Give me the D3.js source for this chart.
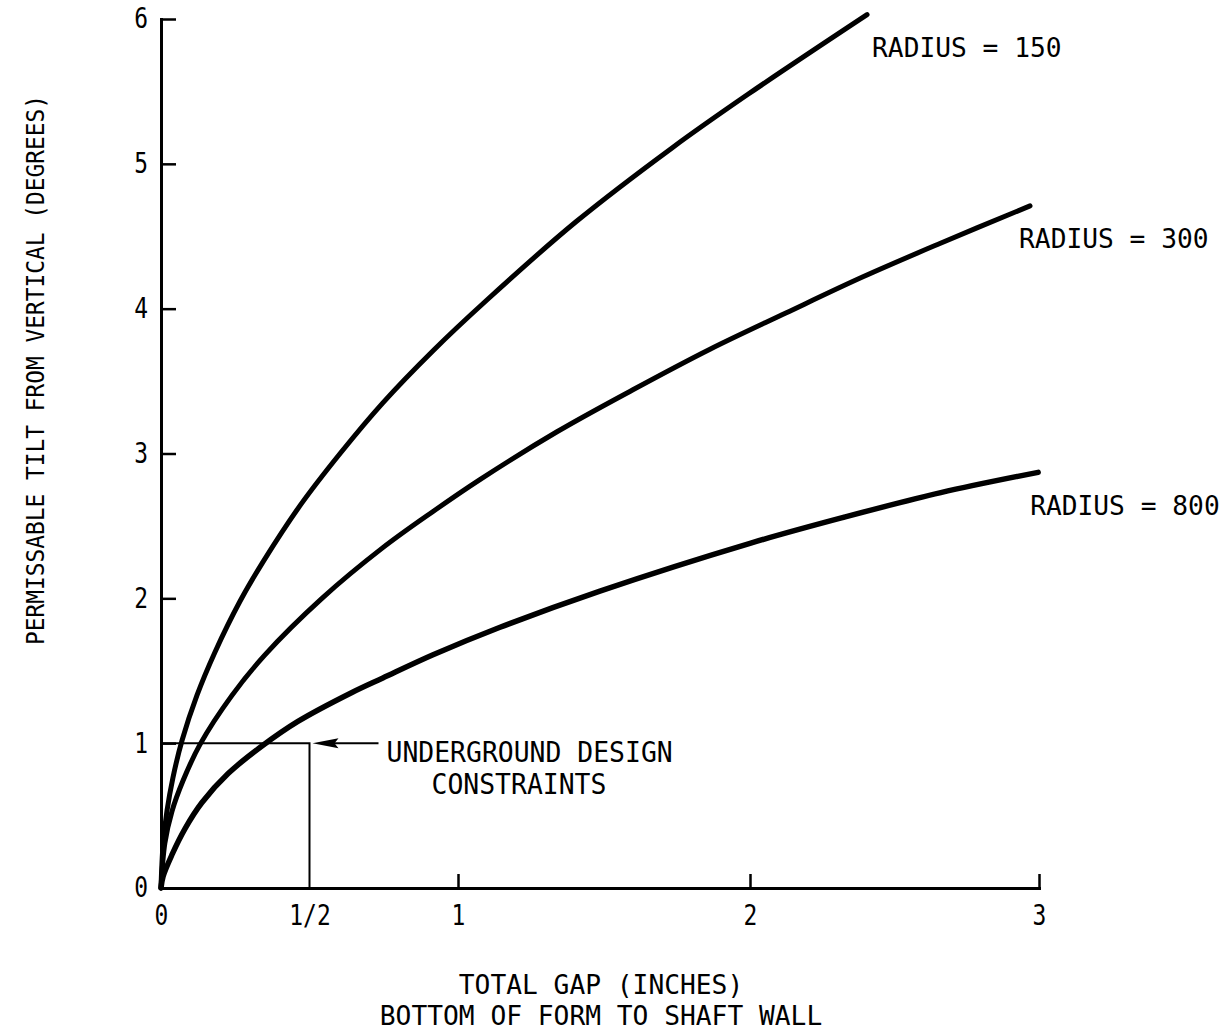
<!DOCTYPE html>
<html>
<head>
<meta charset="utf-8">
<script src="https://cdn.jsdelivr.net/npm/d3@7"></script>
<style>
  html, body { margin: 0; padding: 0; background: #fff; }
  svg { display: block; }
</style>
</head>
<body>
<svg id="chart" width="1230" height="1036"></svg>
<script>
// ---------- data ----------
const xTickValues = [0, 0.5, 1, 2, 3];
const xTickLabels = ["0", "1/2", "1", "2", "3"];
const yTickValues = [0, 1, 2, 3, 4, 5, 6];

const seriesNames = ["RADIUS = 150", "RADIUS = 300", "RADIUS = 800"];

const gapR150  = [0, 0.007, 0.020, 0.040, 0.071, 0.121, 0.182, 0.266, 0.343, 0.468, 0.603, 0.747, 0.916, 1.099, 1.404, 1.733, 1.993, 2.405];
const tiltR150 = [0, 0.30, 0.53, 0.76, 1.02, 1.33, 1.63, 1.98, 2.25, 2.64, 3.00, 3.35, 3.71, 4.06, 4.60, 5.11, 5.48, 6.03];

const gapR300  = [0, 0.013, 0.037, 0.074, 0.131, 0.239, 0.350, 0.542, 0.747, 0.916, 1.075, 1.339, 1.599, 1.863, 2.124, 2.391, 2.657, 2.969];
const tiltR300 = [0, 0.31, 0.53, 0.74, 0.99, 1.33, 1.61, 2.00, 2.35, 2.60, 2.82, 3.15, 3.44, 3.72, 3.97, 4.22, 4.45, 4.71];

const gapR800  = [0, 0.007, 0.037, 0.081, 0.138, 0.226, 0.340, 0.461, 0.643, 0.747, 0.916, 1.144, 1.486, 2.0, 2.325, 2.66, 2.997];
const tiltR800 = [0, 0.08, 0.23, 0.41, 0.59, 0.79, 0.98, 1.15, 1.35, 1.45, 1.61, 1.80, 2.05, 2.38, 2.56, 2.73, 2.87];

const constraintGap = 0.5;
const constraintTilt = 1;
const constraintLabel = ["UNDERGROUND DESIGN", "CONSTRAINTS"];
const xTitle = ["TOTAL GAP (INCHES)", "BOTTOM OF FORM TO SHAFT WALL"];
const yTitle = "PERMISSABLE TILT FROM VERTICAL (DEGREES)";

// ---------- drawing ----------
const FONT = "'DejaVu Sans Mono', 'Liberation Mono', monospace";
const svg = d3.select("#chart");

const x = d3.scaleLinear().domain([0, 1, 2, 3]).range([161, 458, 750, 1039]);
const y = d3.scaleLinear().domain([0, 6]).range([888, 19]);

// condensed look: squeeze mono glyphs horizontally
function condense(sel, size, perChar) {
  sel.attr("font-family", FONT).attr("font-size", size).attr("fill", "#000")
    .attr("lengthAdjust", "spacingAndGlyphs")
    .attr("textLength", function() { return this.textContent.length * perChar; });
}

// y axis
const yAxis = svg.append("g")
  .attr("transform", `translate(${x(0)},0)`)
  .call(d3.axisLeft(y).tickValues(yTickValues).tickFormat(d3.format("d"))
    .tickSizeInner(-15).tickSizeOuter(0).tickPadding(13));
yAxis.select(".domain").attr("stroke", "#000").attr("stroke-width", 3).attr("stroke-linecap", "square");
yAxis.selectAll(".tick line").attr("stroke", "#000").attr("stroke-width", 2.5);
condense(yAxis.selectAll(".tick text"), 28, 13.8);

// x axis
const xAxis = svg.append("g")
  .attr("transform", `translate(0,${y(0)})`)
  .call(d3.axisBottom(x).tickValues(xTickValues).tickFormat((d, i) => xTickLabels[i])
    .tickSizeInner(-14).tickSizeOuter(0).tickPadding(17));
xAxis.select(".domain").attr("stroke", "#000").attr("stroke-width", 3).attr("stroke-linecap", "square");
xAxis.selectAll(".tick line").attr("stroke", "#000").attr("stroke-width", 2.5)
  .attr("display", d => (d === 0 || d === 0.5) ? "none" : null);
condense(xAxis.selectAll(".tick text"), 28, 13.8);

// constraint box
svg.append("path")
  .attr("d", `M${x(0)},${y(constraintTilt)}H${x(constraintGap)}V${y(0)}`)
  .attr("fill", "none").attr("stroke", "#000").attr("stroke-width", 2);

// curves
const line = d3.line().x(d => x(d[0])).y(d => y(d[1])).curve(d3.curveCatmullRom.alpha(0.5));
const series = [
  { gap: gapR150, tilt: tiltR150, w: 5 },
  { gap: gapR300, tilt: tiltR300, w: 5 },
  { gap: gapR800, tilt: tiltR800, w: 5.5 }
];
series.forEach(s => {
  svg.append("path")
    .datum(s.gap.map((g, i) => [g, s.tilt[i]]))
    .attr("d", line)
    .attr("fill", "none").attr("stroke", "#000")
    .attr("stroke-width", s.w).attr("stroke-linecap", "round").attr("stroke-linejoin", "round");
});

// series labels
const labelPos = [
  { x: x(2.405) + 5, y: 57 },
  { x: x(2.969) - 11, y: 248 },
  { x: x(2.997) - 8, y: 515 }
];
seriesNames.forEach((n, i) => {
  svg.append("text").attr("x", labelPos[i].x).attr("y", labelPos[i].y).text(n)
    .call(condense, 27, 15.8);
});

// arrow
const arrowTip = x(constraintGap) + 3;
const arrowY = y(constraintTilt);
svg.append("line").attr("x1", arrowTip + 20).attr("x2", arrowTip + 66)
  .attr("y1", arrowY).attr("y2", arrowY).attr("stroke", "#000").attr("stroke-width", 2);
svg.append("path")
  .attr("d", `M${arrowTip},${arrowY}L${arrowTip + 26},${arrowY - 5}L${arrowTip + 22},${arrowY}L${arrowTip + 26},${arrowY + 5}Z`)
  .attr("fill", "#000");

svg.append("text").attr("x", arrowTip + 74).attr("y", arrowY + 19).text(constraintLabel[0])
  .call(condense, 28, 15.9);
svg.append("text").attr("x", arrowTip + 119).attr("y", arrowY + 51).text(constraintLabel[1])
  .call(condense, 28, 15.9);

// axis titles
const xMid = 601;
xTitle.forEach((t, i) => {
  svg.append("text").attr("x", xMid).attr("y", 994 + i * 31)
    .attr("text-anchor", "middle").text(t)
    .call(condense, 26, 15.8);
});
svg.append("text")
  .attr("transform", "translate(44,370) rotate(-90)")
  .attr("text-anchor", "middle").text(yTitle)
  .call(condense, 25, 13.75);
</script>
</body>
</html>
